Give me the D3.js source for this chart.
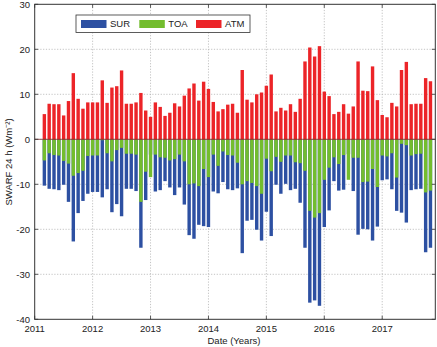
<!DOCTYPE html>
<html><head><meta charset="utf-8">
<script src="https://cdn.jsdelivr.net/npm/d3@7"></script>
<style>body{margin:0;background:#fff}svg{display:block}text{font-family:"Liberation Sans",Arial,Helvetica,sans-serif;fill:#222}</style>
</head><body><svg id="c" width="437" height="347"></svg>
<script>
const months = ["2011-03","2011-04","2011-05","2011-06","2011-07","2011-08","2011-09","2011-10","2011-11","2011-12",
"2012-01","2012-02","2012-03","2012-04","2012-05","2012-06","2012-07","2012-08","2012-09","2012-10","2012-11","2012-12",
"2013-01","2013-02","2013-03","2013-04","2013-05","2013-06","2013-07","2013-08","2013-09","2013-10","2013-11","2013-12",
"2014-01","2014-02","2014-03","2014-04","2014-05","2014-06","2014-07","2014-08","2014-09","2014-10","2014-11","2014-12",
"2015-01","2015-02","2015-03","2015-04","2015-05","2015-06","2015-07","2015-08","2015-09","2015-10","2015-11","2015-12",
"2016-01","2016-02","2016-03","2016-04","2016-05","2016-06","2016-07","2016-08","2016-09","2016-10","2016-11","2016-12",
"2017-01","2017-02","2017-03","2017-04","2017-05","2017-06","2017-07","2017-08","2017-09","2017-10","2017-11"];
const ATM = [5.6,7.9,7.8,7.8,5.3,8.5,14.7,9.0,6.8,8.2,8.2,8.2,
13.1,8.1,11.5,11.8,15.3,7.9,7.9,8.2,10.3,6.4,5.0,8.2,7.2,5.2,
5.9,8.0,7.3,9.7,11.3,12.4,8.6,12.8,11.2,8.3,6.2,6.7,7.7,
7.9,5.9,15.4,8.8,8.2,10.0,10.4,11.9,14.4,6.2,7.0,6.4,7.8,6.1,
9.0,17.3,20.4,18.4,20.7,10.6,9.6,5.6,6.1,7.8,5.7,7.3,17.3,10.8,
10.7,16.2,8.7,5.4,4.9,8.1,7.3,15.4,17.2,7.8,7.9,7.9,13.6,12.9];
const TOA = [-4.7,-3.1,-3.5,-3.6,-4.8,-5.4,-8.1,-7.5,-7.0,-3.7,-3.6,-3.6,
-0.2,-3.1,-4.9,-2.4,-1.9,-3.2,-3.2,-3.4,-13.9,-7.2,-8.4,-3.4,-4.0,-4.1,
-4.7,-4.4,-3.4,-4.9,-10.0,-9.8,-10.4,-6.6,-8.4,-3.4,-5.9,-2.7,-3.5,
-3.6,-5.2,-10.0,-9.3,-9.7,-10.4,-12.1,-4.3,-7.1,-3.9,-5.0,-3.6,-3.6,-5.1,
-5.3,-7.0,-15.9,-17.4,-16.4,-9.0,-6.3,-4.0,-5.5,-3.5,-9.0,-4.1,-4.1,-9.5,
-9.4,-6.6,-10.6,-3.6,-3.8,-3.1,-8.5,-1.0,-1.3,-3.6,-3.3,-3.2,-11.8,-11.4];
const SUR = [-10.3,-11.0,-11.1,-11.3,-10.1,-13.9,-22.7,-16.4,-13.7,-12.1,-11.7,-11.7,
-12.9,-11.1,-16.2,-14.4,-17.1,-11.0,-11.0,-11.5,-24.1,-13.5,-3.4,-11.6,-11.3,-9.3,
-10.7,-12.4,-10.7,-14.5,-21.3,-22.1,-19.0,-19.3,-19.5,-11.6,-12.0,-9.5,-11.1,
-11.3,-10.9,-25.3,-18.1,-17.9,-20.1,-22.5,-16.1,-21.5,-10.1,-12.1,-9.9,-11.3,-11.0,
-14.1,-24.1,-36.3,-35.8,-37.0,-19.5,-15.8,-9.3,-11.4,-11.2,-3.3,-11.5,-21.2,-19.9,
-20.0,-22.5,-19.4,-9.1,-8.9,-11.1,-15.9,-16.3,-18.5,-11.3,-11.1,-11.0,-25.1,-24.1];
const yearTicks = ["2011","2012","2013","2014","2015","2016","2017"];
const yTicks = [30,20,10,0,-10,-20,-30,-40];
const seriesNames = ["SUR","TOA","ATM"];
const colors = {SUR:"#2d50a2", TOA:"#73bd2e", ATM:"#ec2428"};

const svg = d3.select("#c");
const L=34.7, R=435.3, T=4.3, B=319.3;
const mIdx = s => { const [y,m]=s.split("-").map(Number); return (y-2011)*12+(m-1); };
const x = d3.scaleLinear().domain([0,83]).range([L,R]);
const y = d3.scaleLinear().domain([-40,30]).range([B,T]);
const bw = 3.4;

// grid
const g = svg.append("g");
g.selectAll(".gx").data(yearTicks.slice(1)).join("line")
  .attr("x1",d=>x((+d-2011)*12)).attr("x2",d=>x((+d-2011)*12))
  .attr("y1",T).attr("y2",B).attr("stroke","#b4b4b4").attr("stroke-width",0.8).attr("stroke-dasharray","1.2,1.6");
g.selectAll(".gy").data(yTicks.filter(v=>v!==30&&v!==-40)).join("line")
  .attr("x1",L).attr("x2",R).attr("y1",d=>y(d)).attr("y2",d=>y(d))
  .attr("stroke","#b4b4b4").attr("stroke-width",0.8).attr("stroke-dasharray","1.2,1.6");

// bars
const data = months.map((m,i)=>({m:mIdx(m), SUR:SUR[i], TOA:TOA[i], ATM:ATM[i]}));
["SUR","TOA","ATM"].forEach(k=>{
  svg.append("g").selectAll("rect").data(data).join("rect")
    .attr("x",d=>x(d.m)-bw/2).attr("width",bw)
    .attr("y",d=>y(Math.max(0,d[k]))).attr("height",d=>Math.abs(y(d[k])-y(0)))
    .attr("fill",colors[k]);
});
svg.append("line").attr("x1",L).attr("x2",R).attr("y1",y(0)).attr("y2",y(0))
  .attr("stroke","#7a2a2a").attr("stroke-width",0.8);

// frame
svg.append("rect").attr("x",L).attr("y",T).attr("width",R-L).attr("height",B-T)
  .attr("fill","none").attr("stroke","#333").attr("stroke-width",1);
const tl=3.5;
const tk = svg.append("g").attr("stroke","#333").attr("stroke-width",0.8);
yearTicks.forEach(d=>{const px=x((+d-2011)*12);
  tk.append("line").attr("x1",px).attr("x2",px).attr("y1",B).attr("y2",B-tl);
  tk.append("line").attr("x1",px).attr("x2",px).attr("y1",T).attr("y2",T+tl);});
yTicks.forEach(v=>{const py=y(v);
  tk.append("line").attr("x1",L).attr("x2",L+tl).attr("y1",py).attr("y2",py);
  tk.append("line").attr("x1",R).attr("x2",R-tl).attr("y1",py).attr("y2",py);});

// labels
svg.append("g").selectAll("text").data(yearTicks).join("text")
  .attr("x",d=>x((+d-2011)*12)).attr("y",332).attr("text-anchor","middle")
  .attr("font-size",9.5).text(d=>d);
svg.append("g").selectAll("text").data(yTicks).join("text")
  .attr("x",30).attr("y",d=>y(d)+3.3).attr("text-anchor","end")
  .attr("font-size",9.5).text(d=>d);
svg.append("text").attr("x",234).attr("y",344).attr("text-anchor","middle")
  .attr("font-size",9.5).text("Date (Years)");
svg.append("text").attr("transform","translate(12,162) rotate(-90)").attr("text-anchor","middle")
  .attr("font-size",9.5).text("SWARF 24 h (Wm⁻²)");

// legend
const lg = svg.append("g");
lg.append("rect").attr("x",76).attr("y",15).attr("width",174).attr("height",17.5)
  .attr("fill","#fff").attr("stroke","#333").attr("stroke-width",0.8);
const lx=[81,139.3,196];
seriesNames.forEach((k,i)=>{
  lg.append("rect").attr("x",lx[i]).attr("y",20).attr("width",25.5).attr("height",8).attr("fill",colors[k]);
  lg.append("text").attr("x",lx[i]+29).attr("y",27.4).attr("font-size",9.5).text(k);
});
</script></body></html>
